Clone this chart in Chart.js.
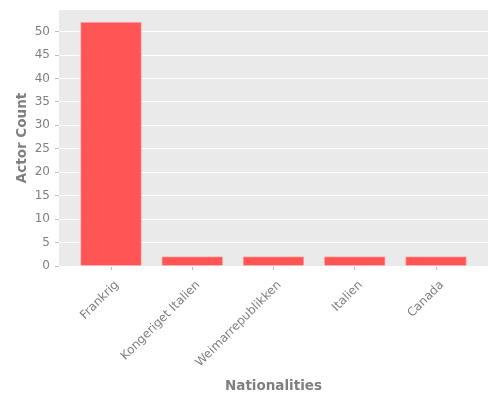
<!DOCTYPE html>
<html>
<head>
    <title>Actor Nationalities</title>
    <script src="https://cdn.jsdelivr.net/npm/chart.js"></script>
    <style>
        html, body { margin: 0; padding: 0; background: #ffffff; }
        #wrap { width: 500px; height: 400px; }
    </style>
</head>
<body>
    <div id="wrap"><canvas id="natChart" width="500" height="400"></canvas></div>

    <script>
        const nationalities = ['Frankrig', 'Kongeriget Italien', 'Weimarrepublikken', 'Italien', 'Canada'];
        const actorCounts = [52, 2, 2, 2, 2];
        const yTicks = [0, 5, 10, 15, 20, 25, 30, 35, 40, 45, 50];

        const textGray = '#7f7f7f';

        // grey panel behind the plot area, ggplot style
        const panelBg = {
            id: 'panelBg',
            beforeDraw(chart) {
                const a = chart.chartArea;
                const ctx = chart.ctx;
                ctx.save();
                ctx.fillStyle = '#eaeaea';
                ctx.fillRect(a.left, a.top, a.right - a.left, a.bottom - a.top);
                ctx.restore();
            }
        };

        const ctx = document.getElementById('natChart').getContext('2d');
        const natChart = new Chart(ctx, {
            type: 'bar',
            data: {
                datasets: [{
                    label: 'Actor Count',
                    data: actorCounts.map((v, i) => ({ x: i, y: v })),
                    backgroundColor: '#ff5555',
                    borderColor: 'rgba(255, 170, 170, 0.9)',
                    borderWidth: 1,
                    barThickness: 61
                }]
            },
            plugins: [panelBg],
            options: {
                responsive: false,
                animation: false,
                devicePixelRatio: 1,
                layout: { padding: { top: 10, right: 12, left: 14, bottom: 0 } },
                plugins: {
                    legend: { display: false },
                    tooltip: { enabled: false }
                },
                scales: {
                    x: {
                        type: 'linear',
                        min: -0.64,
                        max: 4.64,
                        offset: false,
                        afterBuildTicks: scale => {
                            scale.ticks = nationalities.map((n, i) => ({ value: i }));
                        },
                        afterFit: scale => { scale.height = 134; },
                        border: { display: false },
                        grid: {
                            offset: false,
                            drawOnChartArea: false,
                            drawTicks: true,
                            tickLength: 4,
                            color: '#bbbbbb'
                        },
                        ticks: {
                            autoSkip: false,
                            maxRotation: 45,
                            minRotation: 45,
                            padding: 8,
                            labelOffset: 6,
                            color: textGray,
                            font: { family: 'DejaVu Sans', size: 12 },
                            callback: v => nationalities[v]
                        },
                        title: {
                            display: true,
                            text: 'Nationalities',
                            color: textGray,
                            font: { family: 'DejaVu Sans', size: 13.5, weight: 'bold' },
                            padding: { top: 8, bottom: 5 }
                        }
                    },
                    y: {
                        min: 0,
                        max: 54.6,
                        afterBuildTicks: scale => {
                            scale.ticks = yTicks.map(v => ({ value: v }));
                        },
                        afterFit: scale => {
                            scale.width = 45;
                            scale.paddingTop = 0;
                            scale.paddingBottom = 0;
                        },
                        border: { display: false },
                        grid: {
                            color: '#ffffff',
                            lineWidth: 1,
                            drawTicks: true,
                            tickLength: 4,
                            tickColor: '#bbbbbb'
                        },
                        ticks: {
                            padding: 5,
                            color: textGray,
                            font: { family: 'DejaVu Sans', size: 12 }
                        },
                        title: {
                            display: true,
                            text: 'Actor Count',
                            color: textGray,
                            font: { family: 'DejaVu Sans', size: 13.5, weight: 'bold' },
                            padding: { top: 0, bottom: 4 }
                        }
                    }
                }
            }
        });
    </script>
</body>
</html>
